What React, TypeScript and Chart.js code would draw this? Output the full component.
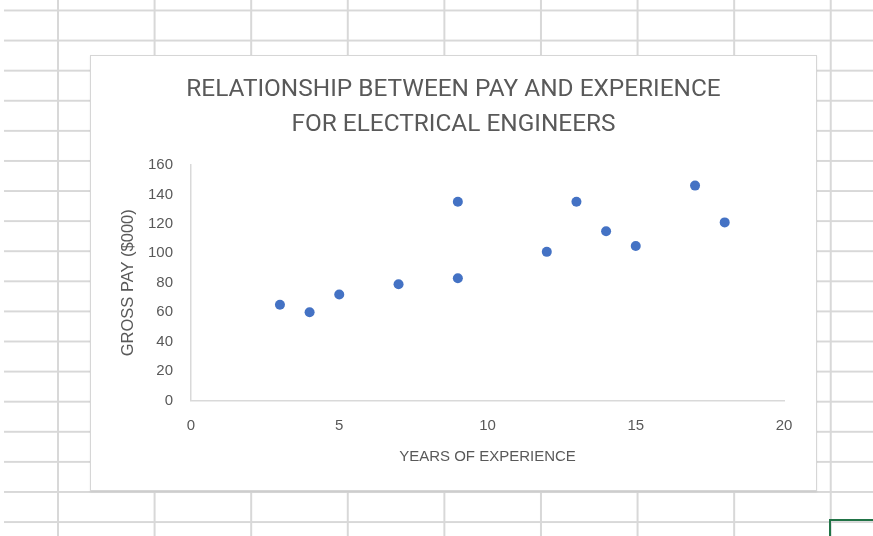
import React, { useEffect, useRef } from "react";
import { Chart, registerables } from "chart.js";

Chart.register(...registerables);

const titleLines = ["RELATIONSHIP BETWEEN PAY AND EXPERIENCE", "FOR ELECTRICAL ENGINEERS"];
const xAxisTitle = "YEARS OF EXPERIENCE";
const yAxisTitle = "GROSS PAY ($000)";
const yearsOfExperience = [3, 4, 5, 7, 9, 9, 12, 13, 14, 15, 17, 18];
const grossPay = [65, 60, 72, 79, 83, 135, 101, 135, 115, 105, 146, 121];

const TEXT = "#595959";
const FONT = "'Liberation Sans', Arial, sans-serif";

export default function App() {
  const ref = useRef<HTMLCanvasElement | null>(null);

  useEffect(() => {
    if (!ref.current) return;
    const points = yearsOfExperience.map((x, i) => ({ x, y: grossPay[i] }));
    const chart = new Chart(ref.current, {
      type: "scatter",
      data: {
        datasets: [
          {
            data: points,
            backgroundColor: "#4472C4",
            borderColor: "#4472C4",
            borderWidth: 0,
            pointRadius: 5,
          },
        ],
      },
      options: {
        animation: false,
        responsive: false,
        maintainAspectRatio: false,
        layout: { padding: { left: 32, right: 32, top: 0, bottom: 0 } },
        plugins: {
          legend: { display: false },
          tooltip: { enabled: false },
          title: {
            display: true,
            text: titleLines,
            color: TEXT,
            font: { family: "Roboto, " + FONT, size: 24.4, weight: "normal", lineHeight: 35 / 24.4 },
            padding: { top: 16.5, bottom: 22.5 },
          },
        },
        scales: {
          x: {
            type: "linear",
            min: 0,
            max: 20,
            grid: { display: false },
            border: { display: true, color: "#d9d9d9", width: 1.5 },
            ticks: { stepSize: 5, color: TEXT, font: { family: FONT, size: 15 }, padding: 8 },
            title: {
              display: true,
              text: xAxisTitle,
              color: TEXT,
              font: { family: FONT, size: 15 },
              padding: { top: 0, bottom: 24 },
            },
            afterFit: (s: any) => {
              s.height = 89.5;
            },
          },
          y: {
            type: "linear",
            min: 0,
            max: 160,
            grid: { display: false },
            border: { display: true, color: "#d9d9d9", width: 1.5 },
            ticks: { stepSize: 20, color: TEXT, font: { family: FONT, size: 15 }, padding: 10 },
            title: {
              display: true,
              text: yAxisTitle,
              color: TEXT,
              font: { family: FONT, size: 16.5 },
              padding: { top: -4, bottom: 0 },
            },
            afterFit: (s: any) => {
              s.width = 68;
            },
          },
        },
      },
    });
    return () => chart.destroy();
  }, []);

  return (
    <div
      style={{
        position: "absolute",
        left: 0,
        top: 0,
        width: 873,
        height: 536,
        overflow: "hidden",
        background: "#ffffff",
      }}
    >
      <div
        style={{
          position: "absolute",
          left: 4,
          top: 0,
          width: 869,
          height: 536,
          backgroundImage:
            "linear-gradient(to right, #d8d8d8 0, #d8d8d8 2px, transparent 2px), linear-gradient(to bottom, #d8d8d8 0, #d8d8d8 2px, transparent 2px)",
          backgroundSize: "96.6px 100%, 100% 30.1px",
          backgroundPosition: "53px 0, 0 9.5px",
        }}
      />
      <div
        style={{
          position: "absolute",
          left: 829,
          top: 519,
          width: 60,
          height: 30,
          border: "2px solid #217346",
        }}
      />
      <div
        style={{
          position: "absolute",
          left: 90,
          top: 55,
          width: 725,
          height: 434,
          background: "#ffffff",
          border: "1px solid #d6d6d6",
          boxShadow: "0 1px 2px rgba(0,0,0,0.08)",
        }}
      >
        <canvas ref={ref} width={725} height={434} style={{ display: "block" }} />
      </div>
    </div>
  );
}
